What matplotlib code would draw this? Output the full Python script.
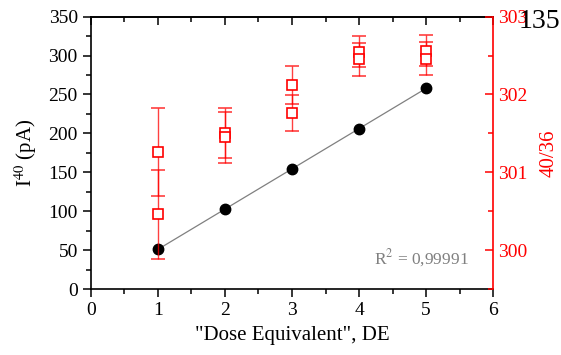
import numpy as np
import matplotlib
matplotlib.use("Agg")
import matplotlib.pyplot as plt
from matplotlib.ticker import MultipleLocator

plt.rcParams['font.family'] = ['Liberation Serif', 'DejaVu Serif']
plt.rcParams['mathtext.fontset'] = 'stix'

# black circles: ion current vs dose
dose = [1, 2, 3, 4, 5]
current = [51, 103, 154, 206, 258]

# red squares: 40/36 ratio, two measurements per dose
ratio_dose = [1, 1, 2, 2, 3, 3, 4, 4, 5, 5]
ratio = [301.26, 300.46, 301.50, 301.45, 302.12, 301.76, 302.55, 302.45, 302.56, 302.46]
ratio_err = [0.57, 0.57, 0.32, 0.33, 0.24, 0.23, 0.20, 0.21, 0.20, 0.21]

red = '#ff0000'

fig = plt.figure(figsize=(5.61, 3.55), dpi=100)
ax = fig.add_axes([0.1622, 0.1859, 0.7166, 0.7671])

# linear fit
k, b = np.polyfit(dose, current, 1)
xf = np.array([dose[0], dose[-1]])
ax.plot(xf, k * xf + b, color='gray', linewidth=0.9, zorder=2)
ax.plot(dose, current, 'o', color='black', markersize=7.5, zorder=3)

ax.set_xlim(0, 6)
ax.set_ylim(0, 350)
ax.xaxis.set_major_locator(MultipleLocator(1))
ax.xaxis.set_minor_locator(MultipleLocator(0.5))
ax.yaxis.set_major_locator(MultipleLocator(50))
ax.yaxis.set_minor_locator(MultipleLocator(25))
ax.tick_params(which='both', direction='out', labelsize=14, width=1.1, right=False)
ax.tick_params(which='major', length=6)
ax.tick_params(which='minor', length=3.5)
for s in ['left', 'bottom', 'top']:
    ax.spines[s].set_linewidth(1.2)
ax.spines['right'].set_visible(False)

top = ax.secondary_xaxis('top')
top.xaxis.set_major_locator(MultipleLocator(1))
top.xaxis.set_minor_locator(MultipleLocator(0.5))
top.tick_params(which='both', direction='in', labeltop=False, width=1.1)
top.tick_params(which='major', length=6)
top.tick_params(which='minor', length=3.5)
top.spines['top'].set_linewidth(1.2)

ax.set_xlabel('"Dose Equivalent", DE', fontsize=15, labelpad=5)
ax.set_ylabel(r'I$^{40}$ (pA)', fontsize=15, labelpad=7)

ax.text(0.94, 0.075, r'R$^2$ = 0,99991', transform=ax.transAxes, ha='right', va='bottom',
        fontsize=12.5, color='gray')

ax2 = ax.twinx()
ax2.errorbar(ratio_dose, ratio, yerr=ratio_err, fmt='s', mfc='white', mec=red, mew=1.2,
             markersize=6.5, ecolor=(1, 0, 0, 0.75), elinewidth=1.0, capsize=5, capthick=1.0)
ax2.set_ylim(299.5, 303)
ax2.yaxis.set_major_locator(MultipleLocator(1))
ax2.yaxis.set_minor_locator(MultipleLocator(0.5))
ax2.tick_params(which='both', direction='in', colors=red, labelsize=14, width=1.1)
ax2.tick_params(which='major', length=6)
ax2.tick_params(which='minor', length=3.5)
ax2.spines['right'].set_color(red)
ax2.spines['right'].set_linewidth(1.2)
for s in ['left', 'bottom', 'top']:
    ax2.spines[s].set_visible(False)
ax2.set_ylabel('40/36', color=red, fontsize=15, labelpad=9)

fig.text(0.925, 0.975, '135', fontsize=20, color='black', ha='left', va='top')

fig.savefig('out.png', dpi=100)
